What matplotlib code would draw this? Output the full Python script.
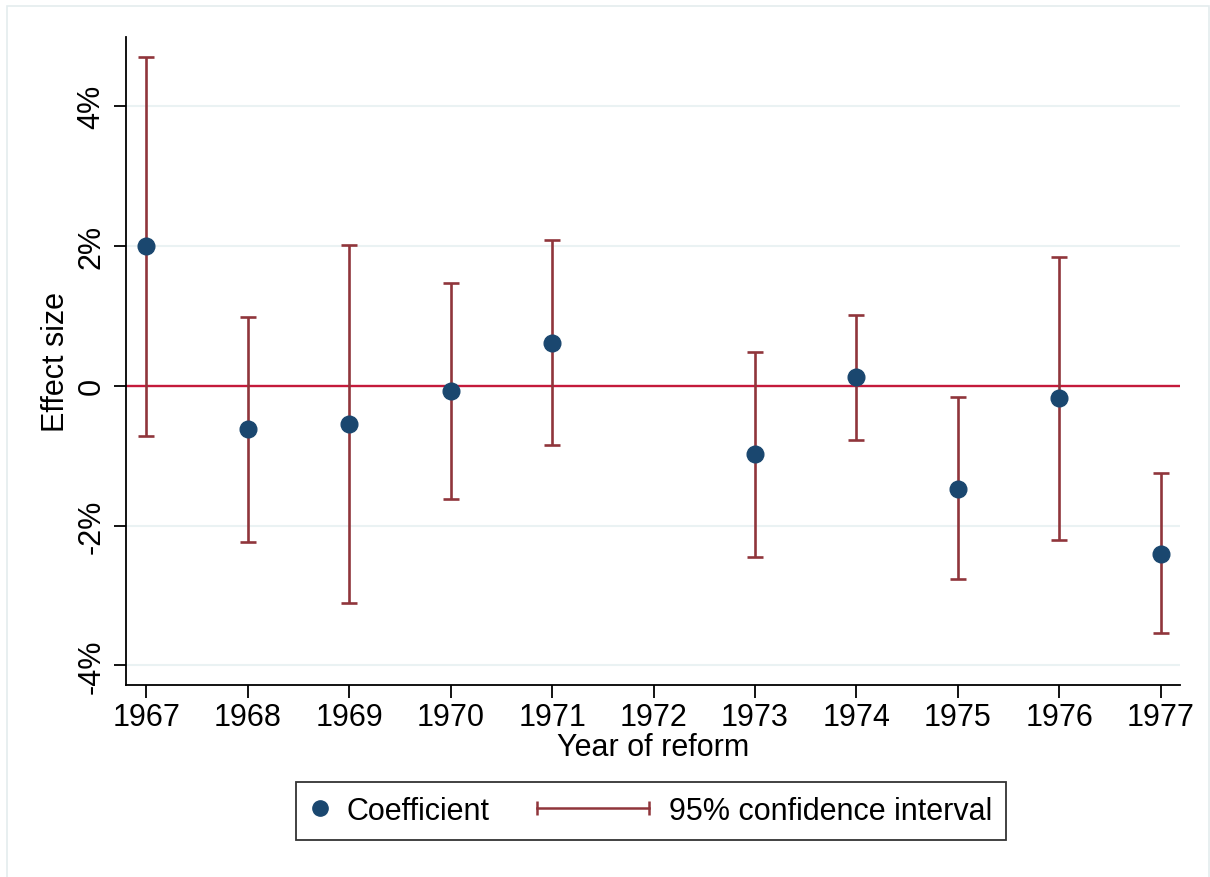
import numpy as np
import matplotlib
matplotlib.use("Agg")
import matplotlib.pyplot as plt
from matplotlib.lines import Line2D
from matplotlib.legend_handler import HandlerBase
from matplotlib.patches import Rectangle

plt.rcParams['font.family'] = ['Liberation Sans', 'DejaVu Sans']

# datos (en %)
years = [1967, 1968, 1969, 1970, 1971, 1973, 1974, 1975, 1976, 1977]
coef = [2.00, -0.62, -0.55, -0.08, 0.61, -0.98, 0.12, -1.47, -0.18, -2.40]
ci_low = [-0.72, -2.24, -3.11, -1.62, -0.84, -2.45, -0.77, -2.77, -2.21, -3.53]
ci_high = [4.71, 0.98, 2.02, 1.47, 2.08, 0.48, 1.01, -0.16, 1.84, -1.25]
xticks = list(range(1967, 1978))
yticks = [-4, -2, 0, 2, 4]
ylabels = ['-4%', '-2%', '0', '2%', '4%']

navy = '#1a476f'
cranberry = '#90353b'
fs = 22


class MarkerHandler(HandlerBase):
    def create_artists(self, legend, orig_handle, xdescent, ydescent, width, height, fontsize, trans):
        m = Line2D([width / 2 - xdescent], [height / 2 - ydescent], marker='o', linestyle='none',
                   color=navy, markersize=11)
        m.set_transform(trans)
        return [m]


class CIHandler(HandlerBase):
    # la linea del IC se extiende hacia la izquierda del hueco del handle
    def create_artists(self, legend, orig_handle, xdescent, ydescent, width, height, fontsize, trans):
        x1 = width - xdescent - 4
        x0 = x1 - 112 * 72 / 100
        y = height / 2 - ydescent
        ln = Line2D([x0, x1], [y, y], color=cranberry, linewidth=1.8, marker='|',
                    markersize=10, markeredgewidth=1.8)
        ln.set_transform(trans)
        return [ln]


fig = plt.figure(figsize=(12.1, 8.78), dpi=100)
fig.patches.append(Rectangle((7/1210, -0.01), 1202/1210, 1 - 7/878 + 0.01, transform=fig.transFigure,
                             fill=False, edgecolor='#e4ecee', linewidth=1.2))
ax = fig.add_axes([126/1210, 1 - 686/878, (1180 - 126)/1210, (686 - 38)/878])

for y in [-4, -2, 2, 4]:
    ax.axhline(y, color='#eaf2f3', linewidth=1.5, zorder=0)
ax.axhline(0, color='#c41a3b', linewidth=1.7, zorder=1)

c = np.array(coef)
err = [c - np.array(ci_low), np.array(ci_high) - c]
ax.errorbar(years, coef, yerr=err, fmt='none', ecolor=cranberry, elinewidth=1.9,
            capsize=5.8, capthick=1.9, zorder=2)
ax.plot(years, coef, 'o', color=navy, markersize=12, zorder=3)

ax.set_xlim(1966.8, 1977.19)
ax.set_ylim(-4.28, 4.99)
ax.set_xticks(xticks)
ax.set_yticks(yticks)
ax.set_yticklabels(ylabels, rotation=90, va='center')
ax.tick_params(axis='both', labelsize=fs, length=9, width=1.3, direction='out')
ax.tick_params(axis='y', pad=5)
ax.spines['top'].set_visible(False)
ax.spines['right'].set_visible(False)
ax.spines['left'].set_linewidth(1.3)
ax.spines['bottom'].set_linewidth(1.3)

ax.set_xlabel('Year of reform', fontsize=fs, labelpad=0)
ax.set_ylabel('Effect size', fontsize=fs, labelpad=4)

h_coef = Line2D([], [])
h_ci = Line2D([], [])
leg = fig.legend([h_coef, h_ci], ['Coefficient', '95% confidence interval'],
                 handler_map={h_coef: MarkerHandler(), h_ci: CIHandler()},
                 ncol=2, loc='center', bbox_to_anchor=(651/1210, 1 - 812/878),
                 fontsize=fs, frameon=True, fancybox=False, edgecolor='black',
                 handlelength=0.7, handletextpad=0.5, columnspacing=4.7,
                 borderpad=0.45, borderaxespad=0)
leg.get_frame().set_linewidth(1.3)

plt.savefig('out.png', dpi=100)
